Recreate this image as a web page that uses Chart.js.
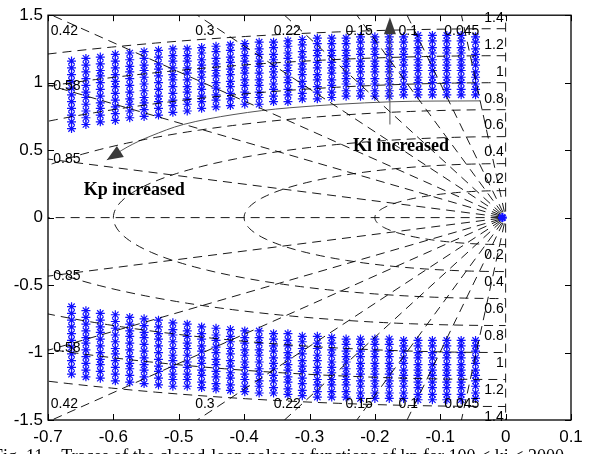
<!DOCTYPE html>
<html>
<head>
<meta charset="utf-8">
<script src="https://cdn.jsdelivr.net/npm/chart.js@4/dist/chart.umd.min.js"></script>
<style>
  html, body { margin: 0; padding: 0; background: #fff; }
</style>
</head>
<body>
<canvas id="grafico" width="591" height="454"></canvas>
<script>
// sgrid values
const zetaVals = [0.045, 0.1, 0.15, 0.22, 0.3, 0.42, 0.58, 0.85];
const zetaText = ['0.045', '0.1', '0.15', '0.22', '0.3', '0.42', '0.58', '0.85'];
const wnVals = [0.2, 0.4, 0.6, 0.8, 1, 1.2, 1.4];
const wnText = ['0.2', '0.4', '0.6', '0.8', '1', '1.2', '1.4'];

// axis ticks
const xTicks = [-0.7, -0.6, -0.5, -0.4, -0.3, -0.2, -0.1, 0, 0.1];
const yTicks = [-1.5, -1, -0.5, 0, 0.5, 1, 1.5];

// closed-loop poles: one column per kp value (real part), imaginary parts for the ki values
const colX = [-0.664, -0.642, -0.620, -0.597, -0.575, -0.553, -0.531, -0.509, -0.487, -0.465,
              -0.443, -0.421, -0.399, -0.377, -0.355, -0.333, -0.311, -0.288, -0.266, -0.244,
              -0.222, -0.200, -0.178, -0.156, -0.134, -0.112, -0.090, -0.068, -0.046];
const colY = [
  [0.66, 0.71, 0.76, 0.81, 0.86, 0.91, 0.96, 1.01, 1.06, 1.11, 1.16],
  [0.69, 0.74, 0.79, 0.84, 0.89, 0.93, 0.98, 1.03, 1.08, 1.13, 1.18],
  [0.71, 0.76, 0.81, 0.85, 0.90, 0.95, 1.00, 1.05, 1.09, 1.14, 1.19],
  [0.72, 0.77, 0.82, 0.87, 0.92, 0.97, 1.01, 1.06, 1.11, 1.16, 1.21],
  [0.74, 0.79, 0.84, 0.88, 0.93, 0.98, 1.03, 1.08, 1.12, 1.17, 1.22],
  [0.75, 0.80, 0.85, 0.89, 0.94, 0.99, 1.04, 1.09, 1.13, 1.18, 1.23],
  [0.76, 0.81, 0.86, 0.90, 0.95, 1.00, 1.05, 1.10, 1.14, 1.19, 1.24],
  [0.78, 0.83, 0.87, 0.92, 0.97, 1.02, 1.06, 1.11, 1.16, 1.20, 1.25],
  [0.79, 0.84, 0.88, 0.93, 0.97, 1.02, 1.07, 1.11, 1.16, 1.20, 1.25],
  [0.81, 0.86, 0.90, 0.95, 0.99, 1.04, 1.08, 1.13, 1.17, 1.22, 1.26],
  [0.82, 0.87, 0.91, 0.96, 1.00, 1.05, 1.09, 1.14, 1.18, 1.23, 1.27],
  [0.83, 0.88, 0.92, 0.97, 1.01, 1.06, 1.10, 1.15, 1.19, 1.24, 1.28],
  [0.84, 0.89, 0.93, 0.98, 1.02, 1.07, 1.11, 1.16, 1.20, 1.25, 1.29],
  [0.84, 0.89, 0.93, 0.98, 1.02, 1.07, 1.12, 1.16, 1.21, 1.25, 1.30],
  [0.86, 0.90, 0.95, 0.99, 1.04, 1.08, 1.12, 1.17, 1.21, 1.26, 1.30],
  [0.86, 0.91, 0.95, 1.00, 1.04, 1.09, 1.13, 1.18, 1.22, 1.27, 1.31],
  [0.88, 0.92, 0.97, 1.01, 1.06, 1.10, 1.14, 1.19, 1.23, 1.28, 1.32],
  [0.88, 0.93, 0.97, 1.02, 1.06, 1.11, 1.15, 1.20, 1.24, 1.29, 1.33],
  [0.89, 0.93, 0.98, 1.02, 1.07, 1.11, 1.15, 1.20, 1.24, 1.29, 1.33],
  [0.90, 0.94, 0.99, 1.03, 1.07, 1.12, 1.16, 1.20, 1.24, 1.29, 1.33],
  [0.90, 0.94, 0.99, 1.03, 1.08, 1.12, 1.16, 1.21, 1.25, 1.30, 1.34],
  [0.90, 0.94, 0.99, 1.03, 1.08, 1.12, 1.16, 1.21, 1.25, 1.30, 1.34],
  [0.90, 0.94, 0.99, 1.03, 1.08, 1.12, 1.16, 1.21, 1.25, 1.30, 1.34],
  [0.91, 0.95, 0.99, 1.04, 1.08, 1.13, 1.17, 1.21, 1.25, 1.30, 1.34],
  [0.91, 0.95, 1.00, 1.04, 1.09, 1.13, 1.17, 1.22, 1.26, 1.31, 1.35],
  [0.91, 0.95, 1.00, 1.04, 1.09, 1.13, 1.17, 1.22, 1.26, 1.31, 1.35],
  [0.91, 0.95, 1.00, 1.04, 1.09, 1.13, 1.17, 1.22, 1.26, 1.31, 1.35],
  [0.91, 0.95, 1.00, 1.04, 1.09, 1.13, 1.17, 1.22, 1.26, 1.31, 1.35],
  [0.91, 0.95, 0.99, 1.04, 1.08, 1.13, 1.17, 1.21, 1.25, 1.30, 1.34]
];
// pole near the origin
const originPole = [{ x: -0.005, y: 0 }];

// "Kp increased" arrow path (data units)
const kpPathX = [-0.039, -0.177, -0.330, -0.417, -0.493, -0.544, -0.579, -0.610];
const kpPathY = [0.865, 0.858, 0.814, 0.763, 0.690, 0.602, 0.522, 0.427];
// "Ki increased" arrow (vertical)
const kiArrowX = -0.177;
const kiArrowY = [0.69, 1.485];

const caption = 'Fig. 11.   Traces of the closed-loop poles as functions of kp for 100 < ki < 2000';

// label placement (layout only)
const zetaLabelPos = [
  [-0.067, 1.383], [-0.149, 1.383], [-0.224, 1.383], [-0.334, 1.383],
  [-0.460, 1.383], [-0.675, 1.383], [-0.671, 0.971], [-0.671, 0.434]
];

// build datasets
const gridStyle = {
  showLine: true, pointRadius: 0, borderColor: 'rgba(0,0,0,0.9)', borderWidth: 1,
  borderDash: [9, 6], clip: 0, order: 0, tension: 0
};
const datasets = [];

const R = 4;
zetaVals.concat([0, 1]).forEach(z => {
  const s = Math.sqrt(1 - z * z);
  const rayStyle = Object.assign({}, gridStyle, { borderDashOffset: 9 });
  datasets.push(Object.assign({ data: [{ x: 0, y: 0 }, { x: -R * z, y: R * s }] }, rayStyle));
  if (z < 1) datasets.push(Object.assign({ data: [{ x: 0, y: 0 }, { x: -R * z, y: -R * s }] }, rayStyle));
});
wnVals.forEach(w => {
  const pts = [];
  for (let a = 90; a <= 270; a += 1.5) {
    const t = a * Math.PI / 180;
    pts.push({ x: w * Math.cos(t), y: w * Math.sin(t) });
  }
  datasets.push(Object.assign({ data: pts }, gridStyle));
});

const upper = [], lower = [];
colX.forEach((x, i) => {
  colY[i].forEach(y => {
    upper.push({ x: x, y: y });
    lower.push({ x: x, y: -y });
  });
});
const markerStyle = {
  showLine: false, pointStyle: 'star', pointRadius: 4.5, borderColor: '#1010ff',
  backgroundColor: '#1010ff', pointBorderWidth: 1.2, order: 1
};
datasets.push(Object.assign({ data: upper }, markerStyle));
datasets.push(Object.assign({ data: lower }, markerStyle));
datasets.push(Object.assign({ data: originPole }, markerStyle, { pointBorderWidth: 2.2, order: -1 }));

datasets.push({
  data: kpPathX.map((x, i) => ({ x: x, y: kpPathY[i] })),
  showLine: true, pointRadius: 0, borderColor: '#555', borderWidth: 1, tension: 0.35, order: 0
});
datasets.push({
  data: [{ x: kiArrowX, y: kiArrowY[0] }, { x: kiArrowX, y: 1.36 }],
  showLine: true, pointRadius: 0, borderColor: '#555', borderWidth: 1, order: 0
});

function head(ctx, tx, ty, fx, fy, len, hw) {
  const dx = tx - fx, dy = ty - fy, d = Math.hypot(dx, dy);
  const ux = dx / d, uy = dy / d;
  const bx = tx - ux * len, by = ty - uy * len;
  ctx.beginPath();
  ctx.moveTo(tx, ty);
  ctx.lineTo(bx - uy * hw, by + ux * hw);
  ctx.lineTo(bx + uy * hw, by - ux * hw);
  ctx.closePath();
  ctx.fill();
}

const extras = {
  id: 'extras',
  afterDatasetsDraw(chart) {
    const ctx = chart.ctx, a = chart.chartArea;
    const sx = chart.scales.x, sy = chart.scales.y;
    const px = v => sx.getPixelForValue(v), py = v => sy.getPixelForValue(v);
    ctx.save();

    // box and inward ticks
    ctx.strokeStyle = '#000';
    ctx.lineWidth = 1.3;
    ctx.strokeRect(a.left, a.top, a.right - a.left, a.bottom - a.top);
    ctx.lineWidth = 1;
    ctx.beginPath();
    xTicks.forEach(v => {
      const x = Math.round(px(v)) + 0.5;
      ctx.moveTo(x, a.bottom); ctx.lineTo(x, a.bottom - 6);
      ctx.moveTo(x, a.top); ctx.lineTo(x, a.top + 6);
    });
    yTicks.forEach(v => {
      const y = Math.round(py(v)) + 0.5;
      ctx.moveTo(a.left, y); ctx.lineTo(a.left + 6, y);
      ctx.moveTo(a.right, y); ctx.lineTo(a.right - 6, y);
    });
    ctx.stroke();

    // sgrid labels
    ctx.fillStyle = '#000';
    ctx.font = '14px "Liberation Sans", Arial, sans-serif';
    ctx.textAlign = 'center';
    ctx.textBaseline = 'middle';
    zetaText.forEach((t, i) => {
      const p = zetaLabelPos[i];
      ctx.fillText(t, px(p[0]), py(p[1]));
      ctx.fillText(t, px(p[0]), py(-p[1]));
    });
    ctx.textAlign = 'right';
    wnText.forEach((t, i) => {
      ctx.fillText(t, px(-0.003), py(wnVals[i]) - 11);
      ctx.fillText(t, px(-0.003), py(-wnVals[i]) + 11);
    });

    // arrow heads
    ctx.fillStyle = '#3a3a3a';
    const n = kpPathX.length;
    head(ctx, px(kpPathX[n - 1]), py(kpPathY[n - 1]), px(kpPathX[n - 2]), py(kpPathY[n - 2]), 16, 6.5);
    head(ctx, px(kiArrowX), py(kiArrowY[1]), px(kiArrowX), py(kiArrowY[0]), 17, 6);

    // annotations
    ctx.fillStyle = '#000';
    ctx.font = 'bold 18px "Liberation Serif", "Times New Roman", serif';
    ctx.textAlign = 'center';
    ctx.fillText('Kp increased', px(-0.568), py(0.2));
    ctx.fillText('Ki increased', px(-0.160), py(0.529));

    // caption (cut by the bottom edge)
    ctx.font = '18px "Liberation Serif", "Times New Roman", serif';
    ctx.textAlign = 'left';
    ctx.textBaseline = 'top';
    ctx.fillText(caption, -7, 448, 598);
    ctx.restore();
  }
};

const tickFont = { family: '"Liberation Sans", Arial, sans-serif', size: 17 };
const fmt = v => { const r = Math.round(v * 10) / 10; return r === 0 ? '0' : String(r); };

new Chart(document.getElementById('grafico').getContext('2d'), {
  type: 'scatter',
  data: { datasets: datasets },
  options: {
    responsive: false,
    devicePixelRatio: 1,
    animation: false,
    layout: { padding: { top: 9, right: 20, left: 0, bottom: 0 } },
    plugins: { legend: { display: false }, tooltip: { enabled: false } },
    scales: {
      x: {
        type: 'linear', min: -0.7, max: 0.1,
        afterFit: s => { s.height = 34; },
        afterBuildTicks: s => { s.ticks = xTicks.map(v => ({ value: v })); },
        ticks: { font: tickFont, color: '#000', padding: 7, callback: fmt, maxRotation: 0 },
        grid: { display: false, drawTicks: false },
        border: { display: false }
      },
      y: {
        type: 'linear', min: -1.5, max: 1.5,
        afterFit: s => { s.width = 48; },
        afterBuildTicks: s => { s.ticks = yTicks.map(v => ({ value: v })); },
        ticks: { font: tickFont, color: '#000', padding: 5, callback: fmt },
        grid: { display: false, drawTicks: false },
        border: { display: false }
      }
    }
  },
  plugins: [extras]
});
</script>
</body>
</html>
